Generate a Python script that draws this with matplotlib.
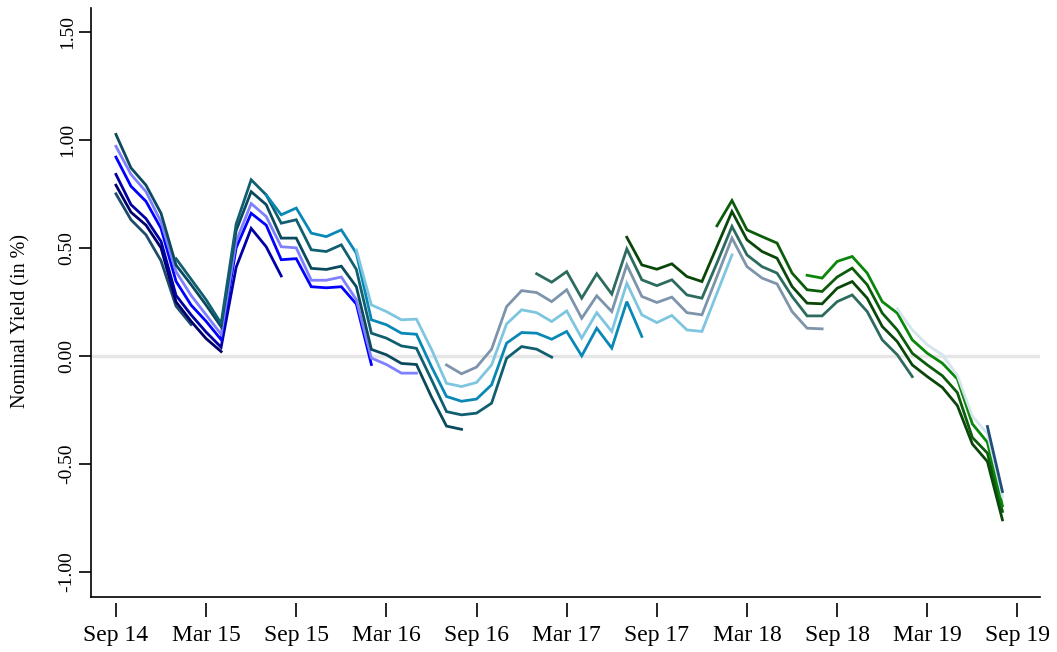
import numpy as np
import matplotlib
matplotlib.use('Agg')
import matplotlib.pyplot as plt

# months counted from Sep 2014 (= 0), one observation per month
tick_months = [0, 6, 12, 18, 24, 30, 36, 42, 48, 54, 60]
tick_labels = ['Sep 14', 'Mar 15', 'Sep 15', 'Mar 16', 'Sep 16', 'Mar 17',
               'Sep 17', 'Mar 18', 'Sep 18', 'Mar 19', 'Sep 19']
y_ticks = [-1.0, -0.5, 0.0, 0.5, 1.0, 1.5]

# nominal yields (in %) of each bond, starting at its first month
slate_start = 0
slate = [0.75, 0.63, 0.56, 0.44, 0.23, 0.145]

navy_start = 0
navy = [0.79, 0.665, 0.605, 0.50, 0.25, 0.16, 0.08, 0.02]

dblue_start = 0
dblue = [0.84, 0.70, 0.635, 0.53, 0.28, 0.19, 0.11, 0.04, 0.41, 0.59, 0.505, 0.37]

blue_start = 0
blue = [0.92, 0.785, 0.715, 0.59, 0.345, 0.235, 0.16, 0.075, 0.50, 0.66, 0.605,
        0.445, 0.45, 0.32, 0.315, 0.32, 0.24, -0.04]

lav_start = 0
lav = [0.97, 0.84, 0.76, 0.62, 0.39, 0.28, 0.19, 0.10, 0.53, 0.705, 0.645, 0.505,
       0.50, 0.35, 0.35, 0.365, 0.26, -0.01, -0.04, -0.08, -0.08]

teal1_start = 0
teal1 = [1.025, 0.87, 0.79, 0.66, 0.42, 0.33, 0.235, 0.135, 0.58, 0.76, 0.70,
         0.545, 0.545, 0.405, 0.40, 0.415, 0.32, 0.03, 0.005, -0.035, -0.04,
         -0.19, -0.325, -0.34]

teal2_start = 4
teal2 = [0.45, 0.355, 0.26, 0.15, 0.61, 0.815, 0.745, 0.614, 0.63, 0.491, 0.483,
         0.514, 0.40, 0.105, 0.082, 0.046, 0.035, -0.11, -0.258, -0.273, -0.265,
         -0.219, -0.011, 0.043, 0.031, -0.006]

cyan_start = 10
cyan = [0.745, 0.653, 0.684, 0.568, 0.552, 0.583, 0.475, 0.167, 0.144, 0.105, 0.10,
        -0.05, -0.188, -0.21, -0.2, -0.134, 0.059, 0.108, 0.105, 0.077, 0.113, 0.0,
        0.128, 0.036, 0.251, 0.09]

sky_start = 16
sky = [0.49, 0.236, 0.205, 0.167, 0.17, 0.03, -0.127, -0.142, -0.123, -0.042,
       0.148, 0.213, 0.2, 0.159, 0.208, 0.082, 0.2, 0.113, 0.336, 0.19, 0.154,
       0.187, 0.12, 0.113, 0.29, 0.467]

grey_start = 22
grey = [-0.042, -0.083, -0.052, 0.031, 0.228, 0.302, 0.293, 0.251, 0.306, 0.174,
        0.278, 0.205, 0.421, 0.275, 0.247, 0.272, 0.2, 0.19, 0.367, 0.545, 0.413,
        0.36, 0.333, 0.205, 0.128, 0.125]

seagreen_start = 28
seagreen = [0.38, 0.341, 0.39, 0.267, 0.38, 0.286, 0.495, 0.352, 0.325, 0.352,
            0.282, 0.267, 0.43, 0.599, 0.467, 0.413, 0.383, 0.275, 0.185, 0.185,
            0.251, 0.282, 0.205, 0.074, 0.005, -0.096]

dgreen1_start = 34
dgreen1 = [0.549, 0.421, 0.401, 0.426, 0.367, 0.344, 0.506, 0.668, 0.537, 0.483,
           0.452, 0.321, 0.244, 0.241, 0.313, 0.344, 0.267, 0.136, 0.066, -0.042,
           -0.096, -0.146, -0.23, -0.408, -0.489, -0.759]

dgreen2_start = 40
dgreen2 = [0.602, 0.719, 0.583, 0.552, 0.522, 0.383, 0.306, 0.298, 0.365, 0.406,
           0.329, 0.198, 0.12, 0.012, -0.042, -0.092, -0.17, -0.378, -0.45, -0.72]

green_start = 46
green = [0.373, 0.36, 0.437, 0.46, 0.383, 0.251, 0.198, 0.074, 0.012, -0.034,
         -0.107, -0.315, -0.40, -0.694]

pale_start = 52
pale = [0.218, 0.12, 0.051, 0.005, -0.09, -0.28, -0.36, -0.651]

navyblue_start = 58
navyblue = [-0.327, -0.628]

series = [
    (slate_start, slate, '#1d4d6b'),
    (navy_start, navy, '#00006b'),
    (dblue_start, dblue, '#0000a5'),
    (blue_start, blue, '#0000ff'),
    (lav_start, lav, '#8080ff'),
    (teal1_start, teal1, '#0b4a5e'),
    (teal2_start, teal2, '#0f5f70'),
    (cyan_start, cyan, '#0a88b5'),
    (sky_start, sky, '#7ec5e0'),
    (grey_start, grey, '#7d94ab'),
    (seagreen_start, seagreen, '#2c6b5e'),
    (dgreen1_start, dgreen1, '#0a460a'),
    (dgreen2_start, dgreen2, '#0b5c0b'),
    (green_start, green, '#0a870a'),
    (pale_start, pale, '#d5e5ec'),
    (navyblue_start, navyblue, '#1e4d78'),
]

plt.rcParams['font.family'] = ['Liberation Serif', 'DejaVu Serif']

fig = plt.figure(figsize=(10.57, 6.52), dpi=100)
ax = fig.add_axes([91 / 1057, 1 - 597 / 652, (1040 - 91) / 1057, (597 - 8) / 652])

ax.axhline(0, color='#e6e6e6', lw=2.5, zorder=1)
for start, vals, col in series:
    x = np.arange(start, start + len(vals))
    ax.plot(x, vals, color=col, lw=2.0, zorder=2, solid_joinstyle='miter')

ax.set_xlim(-1.66, 61.5)
ax.set_ylim(-1.116, 1.61)

for side in ['top', 'right']:
    ax.spines[side].set_visible(False)
ax.spines['left'].set_linewidth(1.2)
ax.spines['bottom'].set_position(('outward', 4))
ax.spines['bottom'].set_visible(False)
ax.plot([0, 1], [0, 0], transform=ax.transAxes, color='black', lw=1.2, clip_on=False)

ax.set_xticks(tick_months)
ax.set_xticklabels(tick_labels, fontsize=17)
ax.tick_params(axis='x', length=10, width=1.2, pad=6)

ax.set_yticks(y_ticks)
ax.set_yticklabels(['%.2f' % v for v in y_ticks], fontsize=14, rotation=90, va='center')
ax.tick_params(axis='y', length=9, width=1.2, pad=2)

fig.text(21 / 1057, 1 - 321 / 652, 'Nominal Yield (in %)', rotation=90,
         ha='center', va='center', fontsize=14.5)

fig.savefig('out.png', dpi=100)
